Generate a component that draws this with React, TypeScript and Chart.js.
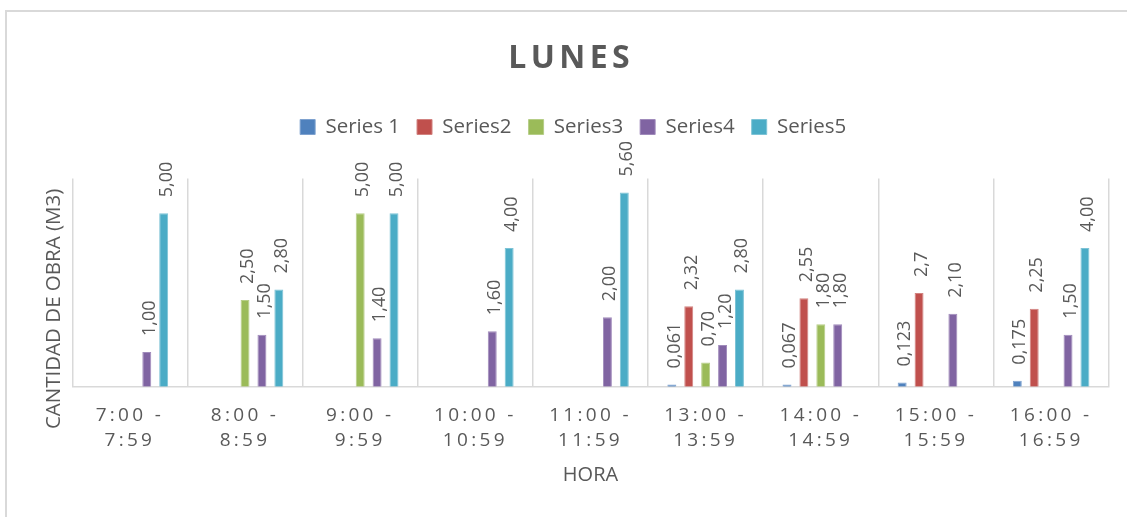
import React, { useEffect, useRef } from 'react';
import { Chart, registerables } from 'chart.js';

Chart.register(...registerables);

const FONT = "'Open Sans', sans-serif";
const TEXT_COLOR = '#595959';

const chartTitle = 'LUNES';
const xAxisTitle = 'HORA';
const yAxisTitle = 'CANTIDAD DE OBRA (M3)';

const categories: string[][] = [
  ['7:00 -', '7:59'],
  ['8:00 -', '8:59'],
  ['9:00 -', '9:59'],
  ['10:00 -', '10:59'],
  ['11:00 -', '11:59'],
  ['13:00 -', '13:59'],
  ['14:00 -', '14:59'],
  ['15:00 -', '15:59'],
  ['16:00 -', '16:59'],
];

const seriesNames = ['Series 1', 'Series2', 'Series3', 'Series4', 'Series5'];
const seriesColors = ['#4F81BD', '#C0504D', '#9BBB59', '#8064A2', '#4BACC6'];
const seriesEdgeColors = ['#7FA2CF', '#D28380', '#B6CE87', '#A08BBB', '#7DC3D6'];

const series1 = [null, null, null, null, null, 0.061, 0.067, 0.123, 0.175];
const series2 = [null, null, null, null, null, 2.32, 2.55, 2.7, 2.25];
const series3 = [null, 2.5, 5.0, null, null, 0.7, 1.8, null, null];
const series4 = [1.0, 1.5, 1.4, 1.6, 2.0, 1.2, 1.8, 2.1, 1.5];
const series5 = [5.0, 2.8, 5.0, 4.0, 5.6, 2.8, null, null, 4.0];

// decimals shown in each data label
const series1Decimals = [3, 3, 3, 3, 3, 3, 3, 3, 3];
const series2Decimals = [2, 2, 2, 2, 2, 2, 2, 1, 2];
const series3Decimals = [2, 2, 2, 2, 2, 2, 2, 2, 2];
const series4Decimals = [2, 2, 2, 2, 2, 2, 2, 2, 2];
const series5Decimals = [2, 2, 2, 2, 2, 2, 2, 2, 2];

const yMin = 0;
const yMax = 6;

const allSeries = [series1, series2, series3, series4, series5];
const allDecimals = [series1Decimals, series2Decimals, series3Decimals, series4Decimals, series5Decimals];

const fmt = (v: number, d: number) => v.toFixed(d).replace('.', ',');

const patchPlugin = {
  id: 'patchSpacing',
  beforeDraw(chart: any) {
    const t = chart.titleBlock;
    if (t && !t.__patched) {
      const orig = t.draw;
      t.draw = function (...args: any[]) {
        const c = this.ctx;
        c.save();
        c.letterSpacing = '4.4px';
        c.translate(-2, 0);
        orig.apply(this, args);
        c.restore();
      };
      t.__patched = true;
    }
    const xs = chart.scales.x;
    if (xs && !xs.__patched) {
      const orig = xs.drawLabels;
      xs.drawLabels = function (...args: any[]) {
        const c = this.ctx;
        c.save();
        c.letterSpacing = '3.3px';
        orig.apply(this, args);
        c.restore();
      };
      xs.__patched = true;
    }
    const ys = chart.scales.y;
    if (ys && !ys.__patched) {
      const orig = ys.drawTitle;
      ys.drawTitle = function (...args: any[]) {
        const c = this.ctx;
        c.save();
        c.translate(0, 26.3);
        orig.apply(this, args);
        c.restore();
      };
      ys.__patched = true;
    }
  },
};

const dataLabelPlugin = {
  id: 'rotatedDataLabels',
  afterDatasetsDraw(chart: any) {
    const ctx = chart.ctx;
    ctx.save();
    ctx.font = `18px ${FONT}`;
    ctx.fillStyle = TEXT_COLOR;
    ctx.textAlign = 'left';
    ctx.textBaseline = 'alphabetic';
    chart.data.datasets.forEach((ds: any, di: number) => {
      const meta = chart.getDatasetMeta(di);
      meta.data.forEach((el: any, i: number) => {
        const v = ds.data[i];
        if (v === null || v === undefined) return;
        const text = fmt(v, allDecimals[di][i]);
        ctx.save();
        ctx.translate(el.x + 8, el.y - 16);
        ctx.rotate(-Math.PI / 2);
        ctx.fillText(text, 0, 0);
        ctx.restore();
      });
    });
    ctx.restore();
  },
};

export default function App() {
  const ref = useRef<HTMLCanvasElement | null>(null);

  useEffect(() => {
    if (!ref.current) return;
    const chart = new Chart(ref.current, {
      type: 'bar',
      data: {
        labels: categories,
        datasets: allSeries.map((s, i) => ({
          label: seriesNames[i],
          data: s,
          backgroundColor: seriesColors[i],
          borderColor: seriesEdgeColors[i],
          borderWidth: 1,
          categoryPercentage: 0.734,
          barPercentage: 0.53,
        })),
      },
      options: {
        animation: false,
        responsive: false,
        devicePixelRatio: 1,
        layout: { padding: { top: 0, right: 26.3, bottom: 32.5, left: 32.7 } },
        plugins: {
          title: {
            display: true,
            text: chartTitle,
            color: TEXT_COLOR,
            font: { family: FONT, size: 32, weight: 'bold', lineHeight: 1.2 },
            padding: { top: 29.3, bottom: 22.05 },
          },
          subtitle: {
            display: true,
            text: '',
            weight: 500,
            font: { family: FONT, size: 10, lineHeight: 1 },
            padding: { top: 0, bottom: 21.3 },
          } as any,
          legend: {
            display: true,
            position: 'top',
            labels: {
              boxWidth: 15,
              boxHeight: 15,
              padding: 17,
              color: TEXT_COLOR,
              font: { family: FONT, size: 20.5 },
            },
          },
          tooltip: { enabled: false },
        },
        scales: {
          x: {
            grid: { display: true, offset: true, color: '#d9d9d9', lineWidth: 1.5, drawTicks: false },
            border: { display: true, color: '#d9d9d9', width: 1.5 },
            ticks: {
              color: TEXT_COLOR,
              font: { family: FONT, size: 19, lineHeight: 25 / 19 },
              padding: 16.8,
              maxRotation: 0,
              minRotation: 0,
              autoSkip: false,
            },
            title: {
              display: true,
              text: xAxisTitle,
              color: TEXT_COLOR,
              font: { family: FONT, size: 20, lineHeight: 0.5 },
              padding: { top: 0.2, bottom: 4 },
            },
          },
          y: {
            min: yMin,
            max: yMax,
            grid: { display: false, drawTicks: false },
            border: { display: false },
            ticks: { display: false },
            title: {
              display: true,
              text: yAxisTitle,
              color: TEXT_COLOR,
              font: { family: FONT, size: 20.5, lineHeight: 1.2 },
              padding: { top: 4, bottom: 6 },
            },
          },
        },
      },
      plugins: [patchPlugin, dataLabelPlugin],
    } as any);
    return () => chart.destroy();
  }, []);

  return (
    <div style={{ position: 'fixed', left: 0, top: 0, width: 1127, height: 517, overflow: 'hidden', background: '#ffffff' }}>
      <canvas
        ref={ref}
        width={1130}
        height={507}
        style={{ position: 'absolute', left: 5, top: 10, width: 1130, height: 507 }}
      />
      <div
        style={{
          position: 'absolute',
          left: 5,
          top: 10,
          width: 1130,
          height: 520,
          border: '2px solid #d9d9d9',
          boxSizing: 'border-box',
          pointerEvents: 'none',
        }}
      />
    </div>
  );
}
